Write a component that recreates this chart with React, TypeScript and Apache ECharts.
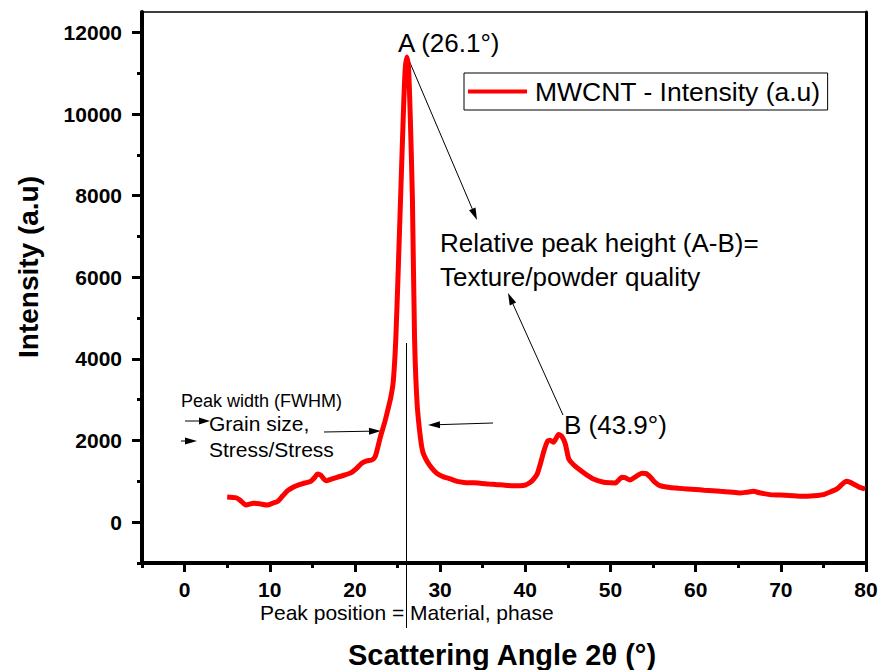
import React, { useEffect, useRef } from "react";
import * as echarts from "echarts";

// Scattering angle 2θ (°)
const angles = [
  5.0, 6.0, 6.5, 7.2, 8.1, 8.8, 9.7, 10.4, 10.9, 11.5, 12.1, 12.8, 13.4, 14.1, 14.8,
  15.3, 15.6, 16.0, 16.4, 16.7, 17.3, 17.9, 18.7, 19.5, 20.2, 20.8, 21.4, 22.0, 22.4,
  23.0, 23.5, 23.8, 24.2, 24.5, 24.8, 25.1, 25.4, 25.7, 25.9, 26.1, 26.3, 26.5, 26.75, 27.0,
  27.3, 27.7, 28.0, 28.5, 29.0, 29.6, 30.4, 31.2, 32.0, 32.8, 33.8, 34.7, 35.7, 36.7,
  37.6, 38.6, 39.4, 40.0, 40.6, 41.0, 41.4, 41.8, 42.2, 42.6, 42.9, 43.3, 43.6, 43.9,
  44.3, 44.7, 45.1, 45.7, 46.5, 47.2, 48.0, 49.2, 50.0, 50.6, 51.0, 51.3, 51.7, 52.3,
  53.0, 53.7, 54.2, 54.7, 55.2, 55.8, 57.0, 58.0, 59.0, 60.0, 61.0, 62.0, 62.9, 64.0,
  65.2, 66.0, 66.8, 67.5, 68.7, 70.0, 71.0, 72.6, 73.5, 74.3, 75.0, 75.8, 76.6, 77.2,
  77.7, 78.1, 78.5, 79.2, 79.9,
];

// MWCNT - Intensity (a.u)
const intensity = [
  620, 600, 540, 420, 465, 450, 420, 470, 505, 640, 773, 860, 913, 960, 1001,
  1100, 1183, 1150, 1050, 1018, 1060, 1100, 1150, 1207, 1320, 1443, 1500, 1526, 1620,
  2100, 2450, 2700, 3050, 3450, 4500, 6300, 8200, 10100, 11100, 11400, 11100, 9900, 7900, 4500,
  2900, 2050, 1700, 1480, 1330, 1200, 1110, 1060, 1000, 975, 965, 955, 935, 920,
  905, 895, 895, 910, 977, 1060, 1183, 1450, 1755, 1980, 2010, 1958, 2050, 2150,
  2100, 1918, 1551, 1400, 1264, 1160, 1060, 977, 965, 962, 1040, 1100, 1090, 1035,
  1120, 1198, 1190, 1100, 980, 896, 850, 830, 815, 800, 785, 770, 756, 740,
  716, 735, 756, 720, 675, 665, 655, 633, 640, 655, 675, 740, 815, 930,
  1001, 980, 937, 860, 815,
];

const xMajorTicks = [0, 10, 20, 30, 40, 50, 60, 70, 80];
const xMinorTicks = [-5, 5, 15, 25, 35, 45, 55, 65, 75];
const yMajorTicks = [0, 2000, 4000, 6000, 8000, 10000, 12000];
const yMinorTicks = [-1000, 1000, 3000, 5000, 7000, 9000, 11000];

const FONT = "'Liberation Sans', Arial, Helvetica, sans-serif";

function arrow(x1: number, y1: number, x2: number, y2: number, len = 12, w = 3.5) {
  const dx = x2 - x1;
  const dy = y2 - y1;
  const L = Math.hypot(dx, dy);
  const ux = dx / L;
  const uy = dy / L;
  const bx = x2 - ux * len;
  const by = y2 - uy * len;
  const px = -uy;
  const py = ux;
  return {
    type: "group",
    children: [
      {
        type: "line",
        shape: { x1, y1, x2: bx, y2: by },
        style: { stroke: "#000", lineWidth: 1 },
      },
      {
        type: "polygon",
        shape: {
          points: [
            [x2, y2],
            [bx + px * w, by + py * w],
            [bx - px * w, by - py * w],
          ],
        },
        style: { fill: "#000" },
      },
    ],
  };
}

function txt(text: string, x: number, y: number, size: number, opts: any = {}) {
  return {
    type: "text",
    x,
    y,
    rotation: opts.rotation || 0,
    style: {
      text,
      fill: "#000",
      fontFamily: FONT,
      fontSize: size,
      fontWeight: opts.bold ? "bold" : "normal",
      textAlign: opts.align || "left",
      textVerticalAlign: "middle",
    },
  };
}

export default function App() {
  const ref = useRef<HTMLDivElement>(null);

  useEffect(() => {
    if (!ref.current) return;
    const chart = echarts.init(ref.current, undefined, { renderer: "svg" });
    const axisLabelStyle = {
      fontFamily: FONT,
      fontWeight: "bold",
      fontSize: 21,
      color: "#000",
      formatter: (v: number) => String(v),
    };
    const option: any = {
      animation: false,
      backgroundColor: "#fff",
      grid: { left: 142, right: 12, top: 12, bottom: 107, containLabel: false, outerBoundsMode: "none" },
      legend: {
        show: true,
        left: 464,
        top: 73,
        orient: "horizontal",
        padding: [5, 7, 5, 4],
        borderColor: "#000",
        borderWidth: 1,
        itemWidth: 59,
        itemHeight: 4,
        icon: "rect",
        textStyle: { fontFamily: FONT, fontSize: 26.5, color: "#000", padding: [0, 0, 0, 3] },
        data: ["MWCNT - Intensity (a.u)"],
      },
      xAxis: [
        {
          type: "value",
          position: "bottom",
          min: -5,
          max: 80,
          axisLine: { show: true, onZero: false, lineStyle: { color: "#000", width: 4 } },
          axisTick: { show: true, inside: false, length: 9, customValues: xMajorTicks, lineStyle: { color: "#000", width: 3 } },
          axisLabel: { show: true, margin: 16, customValues: xMajorTicks, ...axisLabelStyle },
          splitLine: { show: false },
        },
        {
          type: "value",
          position: "bottom",
          min: -5,
          max: 80,
          axisLine: { show: false, onZero: false },
          axisTick: { show: true, inside: false, length: 5, customValues: xMinorTicks, lineStyle: { color: "#000", width: 3 } },
          axisLabel: { show: false },
          splitLine: { show: false },
        },
        {
          type: "value",
          position: "top",
          min: -5,
          max: 80,
          axisLine: { show: true, onZero: false, lineStyle: { color: "#000", width: 1.5 } },
          axisTick: { show: false },
          axisLabel: { show: false },
          splitLine: { show: false },
        },
      ],
      yAxis: [
        {
          type: "value",
          position: "left",
          min: -1000,
          max: 12500,
          axisLine: { show: true, onZero: false, lineStyle: { color: "#000", width: 4 } },
          axisTick: { show: true, inside: false, length: 10, customValues: yMajorTicks, lineStyle: { color: "#000", width: 3 } },
          axisLabel: { show: true, margin: 20, customValues: yMajorTicks, ...axisLabelStyle },
          splitLine: { show: false },
        },
        {
          type: "value",
          position: "left",
          min: -1000,
          max: 12500,
          axisLine: { show: false, onZero: false },
          axisTick: { show: true, inside: false, length: 5, customValues: yMinorTicks, lineStyle: { color: "#000", width: 3 } },
          axisLabel: { show: false },
          splitLine: { show: false },
        },
        {
          type: "value",
          position: "right",
          min: -1000,
          max: 12500,
          axisLine: { show: true, onZero: false, lineStyle: { color: "#000", width: 3 } },
          axisTick: { show: false },
          axisLabel: { show: false },
          splitLine: { show: false },
        },
      ],
      series: [
        {
          name: "MWCNT - Intensity (a.u)",
          type: "line",
          xAxisIndex: 0,
          yAxisIndex: 0,
          data: angles.map((a, i) => [a, intensity[i]]),
          showSymbol: false,
          symbol: "none",
          smooth: 0.2,
          color: "#ff0000",
          lineStyle: { color: "#ff0000", width: 5 },
          clip: true,
        },
      ],
      graphic: [
        // vertical peak-position line
        {
          type: "line",
          shape: { x1: 406.5, y1: 343, x2: 406.5, y2: 628 },
          style: { stroke: "#000", lineWidth: 1 },
        },
        txt("A (26.1°)", 398, 43, 26),
        txt("B (43.9°)", 564, 425, 26),
        txt("Relative peak height (A-B)=", 440, 243, 26),
        txt("Texture/powder quality", 440, 277, 26),
        txt("Peak width (FWHM)", 181, 401, 18),
        txt("Grain size,", 209, 423, 21),
        txt("Stress/Stress", 209, 449, 21),
        txt("Peak position = Material, phase", 260, 612, 21),
        txt("Scattering Angle 2θ (°)", 502, 655, 29, { bold: true, align: "center" }),
        txt("Intensity (a.u)", 28, 267, 28, { bold: true, align: "center", rotation: Math.PI / 2 }),
        arrow(408, 58, 477, 220),
        arrow(563, 415, 508, 293),
        arrow(493, 423, 428, 425),
        arrow(324, 432, 381, 431),
        arrow(185, 421, 210, 421, 11, 3.5),
        arrow(181, 441, 197, 441, 12, 3.5),
      ],
    };
    chart.setOption(option);
    return () => chart.dispose();
  }, []);

  return (
    <div
      ref={ref}
      style={{ position: "fixed", left: 0, top: 0, width: 878, height: 670, background: "#fff" }}
    />
  );
}
